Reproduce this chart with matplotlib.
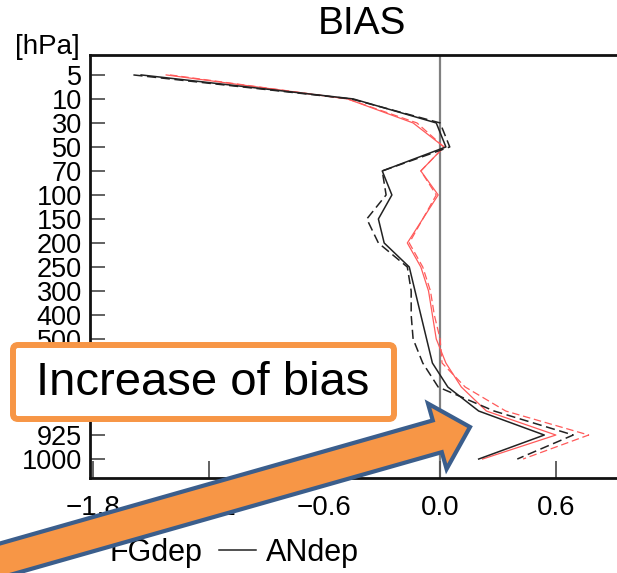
import matplotlib
matplotlib.use("Agg")
import matplotlib.pyplot as plt
from matplotlib.lines import Line2D
from matplotlib.patches import FancyArrow, FancyBboxPatch

plt.rcParams['font.family'] = ['Liberation Sans', 'DejaVu Sans']

# pressure levels (hPa), top of the profile first
levels = [5, 10, 30, 50, 70, 100, 150, 200, 250, 300, 400, 500, 600, 700, 850, 925, 1000]
level_labels = [str(p) for p in levels]

# bias profiles: black = exp 1, red = exp 2; dashed = FGdep, solid = ANdep
black_an = [-1.55, -0.45, -0.02, 0.03, -0.30, -0.25, -0.32, -0.29, -0.16, -0.13, -0.10, -0.07, -0.04, 0.04, 0.20, 0.54, 0.20]
black_fg = [-1.59, -0.46, 0.00, 0.05, -0.30, -0.28, -0.38, -0.32, -0.17, -0.15, -0.15, -0.14, -0.09, -0.01, 0.28, 0.69, 0.40]
red_an = [-1.42, -0.48, -0.14, 0.02, -0.10, -0.01, -0.09, -0.17, -0.10, -0.06, -0.04, -0.02, 0.03, 0.11, 0.24, 0.60, 0.22]
red_fg = [-1.40, -0.48, -0.12, 0.02, -0.10, -0.02, -0.09, -0.16, -0.09, -0.05, -0.03, 0.00, 0.01, 0.13, 0.34, 0.77, 0.43]

xticks = [-1.8, -1.2, -0.6, 0.0, 0.6]
xtick_labels = ["\u22121.8", "\u22121.2", "\u22120.6", "0.0", "0.6"]

W, H = 617, 573
fig = plt.figure(figsize=(W / 100, H / 100), dpi=100)
ax = fig.add_axes([90 / W, 1 - 478 / H, 527 / W, 423 / H])

idx = list(range(len(levels)))
ax.axvline(0, color="#808080", lw=1.6, zorder=1)
ax.plot(red_fg, idx, color="#ff5a5a", lw=0.9, dashes=(6, 3))
ax.plot(red_an, idx, color="#ff5a5a", lw=0.9)
ax.plot(black_fg, idx, color="#222222", lw=1.1, dashes=(6, 3))
ax.plot(black_an, idx, color="#222222", lw=1.1)

ax.set_xlim(-1.815, 0.917)
ax.set_ylim(16.79, -0.83)
ax.set_yticks(idx)
ax.set_yticklabels(level_labels, fontsize=19.5)
ax.set_xticks(xticks)
ax.set_xticklabels(xtick_labels, fontsize=20)
ax.tick_params(axis="y", direction="in", length=11, width=1.3, color="#555555", pad=6)
ax.tick_params(axis="x", direction="in", length=12, width=1.3, color="#555555", pad=12)
ax.spines["right"].set_visible(False)
for s in ("top", "left", "bottom"):
    ax.spines[s].set_linewidth(2)
    ax.spines[s].set_color("#111111")

fig.text(362 / W, 1 - 24 / H, "BIAS", fontsize=28, ha="center", va="center")
fig.text(15 / W, 1 - 47 / H, "[hPa]", fontsize=20, ha="left", va="center")

handles = [Line2D([], [], color="#222222", lw=1.1, dashes=(6, 3)),
           Line2D([], [], color="#222222", lw=1.1)]
fig.legend(handles, ["FGdep", "ANdep"], ncol=2, frameon=False, fontsize=22,
           loc="center", bbox_to_anchor=(211 / W, 1 - 553 / H),
           handlelength=1.2, handletextpad=0.33, columnspacing=0.55, borderpad=0)

# overlay in pixel units for the callout box and arrow
ov = fig.add_axes([0, 0, 1, 1], zorder=10)
ov.set_xlim(0, W)
ov.set_ylim(H, 0)
ov.set_axis_off()
ov.patch.set_alpha(0)

box = FancyBboxPatch((13, 345), 381, 74, boxstyle="round,pad=0,rounding_size=5",
                     facecolor="white", edgecolor="#f79646", lw=4.3)
ov.add_patch(box)
ov.text(203, 383, "Increase of bias", fontsize=34, ha="center", va="center")

arrow = FancyArrow(-40, 572, 510, -145, width=33, head_width=68, head_length=34,
                   length_includes_head=True, facecolor="#f79646",
                   edgecolor="#3b5e8c", lw=3)
ov.add_patch(arrow)

fig.savefig("out.png", dpi=100)
